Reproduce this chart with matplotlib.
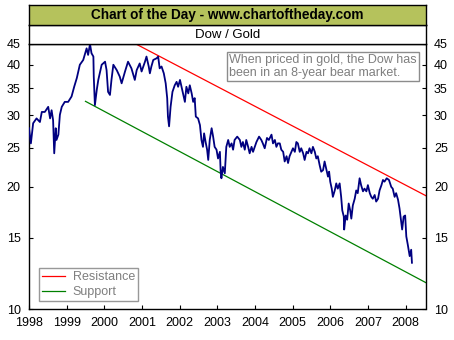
import matplotlib
matplotlib.use("Agg")
import matplotlib.pyplot as plt
from matplotlib.ticker import FixedLocator, NullLocator
import numpy as np

plt.rcParams['font.family'] = ['Liberation Sans', 'DejaVu Sans']

years = [1998.00, 1998.05, 1998.11, 1998.20, 1998.29, 1998.34, 1998.42, 1998.51, 1998.56, 1998.60,
         1998.64, 1998.67, 1998.71, 1998.73, 1998.78, 1998.82, 1998.87, 1998.95, 1999.04, 1999.13,
         1999.20, 1999.27, 1999.35, 1999.44, 1999.53, 1999.57, 1999.62, 1999.66, 1999.71, 1999.72,
         1999.75, 1999.80, 1999.84, 1999.93, 2000.02, 2000.06, 2000.10, 2000.15, 2000.19, 2000.24,
         2000.33, 2000.41, 2000.46, 2000.55, 2000.63, 2000.72, 2000.81, 2000.86, 2000.94, 2000.99,
         2001.08, 2001.12, 2001.18,
         2001.21, 2001.25, 2001.30, 2001.39, 2001.43, 2001.47, 2001.52, 2001.58, 2001.63, 2001.67,
         2001.69, 2001.72, 2001.76, 2001.81, 2001.87, 2001.92, 2001.96, 2002.01, 2002.05, 2002.09,
         2002.14, 2002.18, 2002.23, 2002.27, 2002.32, 2002.36, 2002.40, 2002.43, 2002.49, 2002.54,
         2002.58, 2002.62, 2002.65, 2002.69, 2002.73, 2002.76, 2002.80, 2002.85, 2002.89, 2002.93,
         2002.98, 2003.02, 2003.07, 2003.09, 2003.11, 2003.15, 2003.20, 2003.24, 2003.29, 2003.33,
         2003.38, 2003.42, 2003.46, 2003.53, 2003.60, 2003.64, 2003.68, 2003.73, 2003.77, 2003.82,
         2003.86, 2003.91, 2003.95, 2004.04, 2004.11, 2004.17, 2004.21, 2004.26, 2004.32, 2004.37,
         2004.44, 2004.48, 2004.53, 2004.57, 2004.61,
         2004.66, 2004.70, 2004.75, 2004.79, 2004.84, 2004.88, 2004.92, 2004.97, 2005.01, 2005.06,
         2005.10, 2005.14, 2005.19, 2005.23, 2005.28, 2005.32, 2005.37, 2005.41, 2005.45, 2005.50,
         2005.54, 2005.59, 2005.63, 2005.67, 2005.72, 2005.76, 2005.81, 2005.85, 2005.90, 2005.94,
         2005.97, 2006.00, 2006.04, 2006.07, 2006.12, 2006.16, 2006.20, 2006.25, 2006.29, 2006.32,
         2006.36, 2006.37, 2006.41, 2006.45, 2006.49, 2006.53, 2006.56, 2006.60, 2006.65, 2006.69,
         2006.73, 2006.78, 2006.82, 2006.87, 2006.91, 2006.96, 2007.00, 2007.05, 2007.09, 2007.13,
         2007.18, 2007.22, 2007.27, 2007.31, 2007.36, 2007.40, 2007.44, 2007.50, 2007.56, 2007.62,
         2007.66, 2007.71, 2007.75, 2007.80, 2007.84, 2007.89, 2007.91, 2007.95, 2007.99, 2008.02,
         2008.06, 2008.11, 2008.15, 2008.17]

dow_gold = [27.9, 25.6, 28.7, 29.5, 28.9, 30.6, 30.6, 31.5, 29.5, 30.9,
            29.2, 24.2, 27.9, 26.1, 26.9, 30.1, 31.5, 32.4, 32.4, 33.4,
            35.3, 37.1, 40.0, 41.1, 43.9, 42.3, 45.0, 42.7, 41.9, 37.4,
            31.8, 34.7, 36.7, 40.0, 40.7, 38.8, 34.3, 33.7, 36.7, 40.0,
            38.8, 37.4, 36.0, 38.5, 40.7, 39.2, 36.7, 38.8, 40.3, 38.5,
            40.7, 41.9, 39.6,
            38.1, 39.6, 41.1, 41.5, 41.9, 39.2, 39.6, 38.1, 36.0, 33.1,
            29.8, 28.2, 31.5, 34.3, 35.6, 36.3, 35.3, 36.7, 35.3, 34.0,
            32.4, 35.3, 34.0, 35.6, 34.0, 32.4, 33.1, 29.8, 29.5, 28.4,
            26.1, 25.1, 27.1, 25.8, 24.7, 23.3, 26.1, 27.9, 26.6, 25.1,
            24.7, 23.5, 24.4, 21.8, 21.0, 22.4, 21.6, 25.1, 26.1, 25.1,
            25.6, 24.7, 26.1, 26.6, 26.1, 25.1, 25.8, 24.7, 26.1, 25.1,
            24.2, 25.1, 24.4, 25.8, 26.6, 26.1, 25.6, 24.9, 26.4, 26.1,
            26.9, 25.6, 26.1, 25.1, 25.6,
            25.6, 24.7, 24.4, 23.1, 23.8, 22.9, 23.8, 24.4, 24.9, 24.4,
            25.8, 25.6, 24.4, 24.9, 24.2, 23.3, 24.4, 24.2, 24.9, 24.2,
            25.1, 24.4, 23.5, 23.8, 22.6, 21.8, 22.0, 23.1, 22.0, 21.2,
            21.8, 20.6, 19.8, 18.9, 19.6, 20.4, 19.8, 20.4, 18.9, 17.5,
            16.9, 15.7, 17.0, 16.6, 18.2, 17.5, 16.7, 18.0, 18.7, 19.6,
            19.3, 21.0, 20.2, 19.5, 19.8, 19.5, 20.2, 19.3, 18.9, 18.7,
            19.1, 18.4, 18.7, 19.6, 20.2, 20.8, 20.6, 21.0, 20.8, 20.0,
            19.8, 18.9, 19.3, 18.6, 17.7, 16.3, 15.7, 16.9, 17.0, 15.1,
            14.4, 13.5, 14.0, 13.0]

resistance_years = [2000.84, 2008.55]
resistance_vals = [45.0, 19.0]
support_years = [1999.50, 2008.55]
support_vals = [32.5, 11.6]

y_ticks = [10, 15, 20, 25, 30, 35, 40, 45]
x_ticks = list(range(1998, 2009))

W, H = 454, 340
fig = plt.figure(figsize=(W / 100, H / 100), dpi=100)
fig.patch.set_facecolor('white')

L, R = 29 / W, 425.5 / W
B, T = 1 - 309 / H, 1 - 44 / H

ax = fig.add_axes([L, B, R - L, T - B])
ax.set_yscale('log')
ax.set_ylim(10, 45)
ax.set_xlim(1998, 2008.53)

ax.plot(years, dow_gold, color='#000080', lw=1.3, zorder=3)
ax.plot(resistance_years, resistance_vals, color='#FF0000', lw=0.9, label='Resistance', zorder=2)
ax.plot(support_years, support_vals, color='#008000', lw=0.9, label='Support', zorder=2)

ax.yaxis.set_major_locator(FixedLocator(y_ticks))
ax.yaxis.set_minor_locator(NullLocator())
ax.set_yticklabels([str(v) for v in y_ticks])
ax.xaxis.set_major_locator(FixedLocator(x_ticks))
ax.set_xticklabels([str(v) for v in x_ticks])
ax.tick_params(axis='both', direction='in', length=3, width=0.8, labelsize=9, colors='black')
ax.tick_params(axis='y', which='both', left=True, right=True, labelleft=True, labelright=True, pad=6)
ax.tick_params(axis='x', pad=6)
for s in ax.spines.values():
    s.set_linewidth(1.0)

ax.text(0.505, 0.962, 'When priced in gold, the Dow has\nbeen in an 8-year bear market.',
        transform=ax.transAxes, ha='left', va='top', fontsize=9, color='#7F7F7F',
        linespacing=1.05,
        bbox=dict(boxstyle='square,pad=0.2', fc='white', ec='#8C8C8C', lw=1.0))

leg = ax.legend(loc='lower left', bbox_to_anchor=(0.024, 0.03), fontsize=9, frameon=True,
                fancybox=False, borderpad=0.25, handlelength=1.9, handletextpad=0.6,
                labelspacing=0.2, borderaxespad=0)
leg.get_frame().set_edgecolor('#7F7F7F')
leg.get_frame().set_linewidth(1.0)
for t in leg.get_texts():
    t.set_color('#7F7F7F')

# header "Dow / Gold"
hdr = fig.add_axes([L, 1 - 44 / H, R - L, 19 / H])
hdr.set_xticks([]); hdr.set_yticks([])
hdr.set_facecolor('white')
for s in hdr.spines.values():
    s.set_linewidth(1.0)
hdr.text(0.5, 0.5, 'Dow / Gold', ha='center', va='center', fontsize=9.5, transform=hdr.transAxes)

# title bar
ttl = fig.add_axes([L, 1 - 25 / H, R - L, 20 / H])
ttl.set_xticks([]); ttl.set_yticks([])
ttl.set_facecolor('#B5C25C')
for s in ttl.spines.values():
    s.set_linewidth(1.0)
ttl.text(0.5, 0.5, 'Chart of the Day - www.chartoftheday.com', ha='center', va='center',
         fontsize=9.8, fontweight='bold', transform=ttl.transAxes)

fig.savefig('out.png', dpi=100, facecolor='white')
